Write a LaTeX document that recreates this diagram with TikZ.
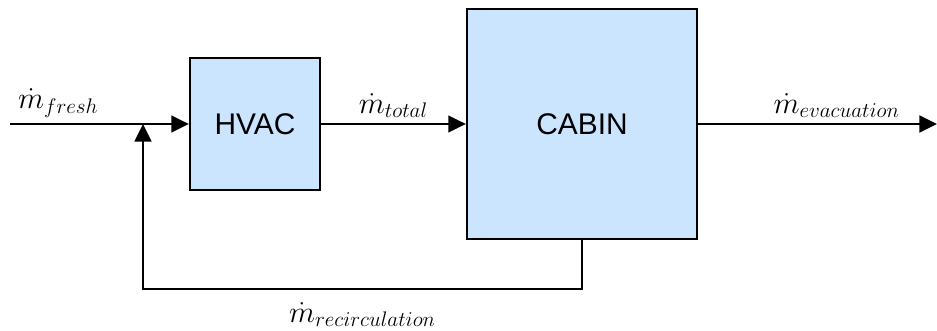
\documentclass[tikz,border=0pt]{standalone}
\usepackage{fontspec}
\setsansfont{Liberation Sans}
\usetikzlibrary{arrows.meta}
\definecolor{boxblue}{HTML}{CCE5FF}

\tikzstyle{block}=[draw,line width=1.3pt,fill=boxblue,inner sep=0pt,font=\sffamily\fontsize{17}{18}\selectfont]
\tikzstyle{flow} = [draw,line width=1.3pt,-{Triangle[length=10pt,width=9.5pt]}]
\tikzstyle{rate} = [font=\fontsize{18}{19}\selectfont,inner sep=3pt]

\begin{document}
\begin{tikzpicture}
    \useasboundingbox (0,0) rectangle (18.74,6.62);
    % First we place the two blocks
    \node[block,minimum width=2.6cm,minimum height=2.64cm] (hvac) at (5.1,4.14) {HVAC};
    \node[block,minimum size=4.6cm] (cabin) at (11.64,4.14) {CABIN};
    % Free ends and corners of the flow lines
    \foreach \name/\x/\y in {inlet/0.2/4.14, mix/2.86/4.14, low/2.86/0.84, outlet/18.74/4.14}
        \coordinate (\name) at (\x,\y);
    % Mass flows between the blocks, with their rates
    \path[flow] (inlet) -- node[rate,above,pos=0.27] {$\dot m_{fresh}$} (hvac.west);
    \path[flow] (hvac) -- node[rate,above] {$\dot m_{total}$} (cabin);
    \path[flow] (cabin) -- node[rate,above,pos=0.58] {$\dot m_{evacuation}$} (outlet);
    \path[flow] (cabin.south) |- node[rate,below=4pt,pos=0.75] {$\dot m_{recirculation}$} (low) -- (mix);
\end{tikzpicture}
\end{document}
